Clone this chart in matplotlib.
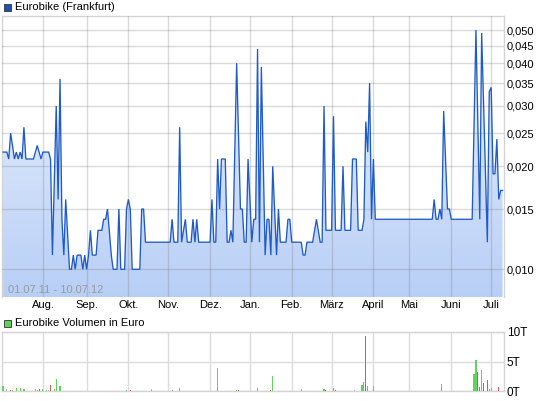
import numpy as np
import matplotlib
matplotlib.use("Agg")
import matplotlib.pyplot as plt
from matplotlib.patches import Rectangle
from matplotlib.ticker import FixedLocator, NullLocator

plt.rcParams['font.family'] = ['Liberation Sans', 'DejaVu Sans']

# ---- data (x = trading-day index since 01.07.11) ----
price_idx = [0, 2, 3, 4, 6, 7, 8, 9, 10, 11, 12, 16, 18, 20, 21, 24, 25, 26, 28, 29,
             30, 31, 32, 33, 35, 36, 37, 38, 39, 41, 42, 43, 44, 45, 46, 47, 49, 50, 52, 53,
             54, 55, 57, 58, 60, 61, 62, 64, 65, 66, 67, 68, 72, 73, 74, 75, 88, 89, 90, 92,
             93, 94, 96, 97, 99, 100, 101, 102, 103, 109, 110, 111, 112, 113, 114, 115, 117, 118, 119, 120,
             121, 123, 125, 126, 127, 128, 129, 131, 132, 133, 134, 135, 136, 138, 139, 140, 141, 142, 144, 145,
             146, 149, 150, 151, 152, 157, 158, 159, 160, 163, 165, 167, 168, 169, 170, 173, 174, 175, 178, 179,
             180, 183, 184, 186, 187, 189, 190, 191, 192, 193, 194, 195, 196, 226, 227, 228, 229, 230, 231, 232,
             234, 235, 236, 247, 249, 251, 252, 255, 256, 257, 258, 259, 260, 261, 262, 263]
price_val = [0.022, 0.022, 0.021, 0.025, 0.021, 0.022, 0.021, 0.022, 0.021, 0.026, 0.021, 0.021, 0.023, 0.021, 0.022, 0.022, 0.021, 0.011, 0.030, 0.016,
             0.036, 0.014, 0.011, 0.016, 0.010, 0.010, 0.011, 0.010, 0.011, 0.011, 0.010, 0.011, 0.010, 0.011, 0.013, 0.011, 0.011, 0.013, 0.013, 0.014,
             0.014, 0.015, 0.011, 0.010, 0.010, 0.015, 0.010, 0.010, 0.015, 0.016, 0.015, 0.010, 0.010, 0.015, 0.015, 0.012, 0.012, 0.014, 0.012, 0.012,
             0.026, 0.012, 0.014, 0.012, 0.012, 0.014, 0.012, 0.014, 0.012, 0.012, 0.016, 0.012, 0.012, 0.021, 0.015, 0.021, 0.021, 0.012, 0.012, 0.013,
             0.012, 0.040, 0.015, 0.015, 0.012, 0.012, 0.021, 0.012, 0.014, 0.014, 0.044, 0.012, 0.039, 0.011, 0.014, 0.014, 0.011, 0.020, 0.011, 0.015,
             0.012, 0.012, 0.014, 0.014, 0.012, 0.012, 0.011, 0.011, 0.012, 0.012, 0.014, 0.012, 0.012, 0.030, 0.013, 0.013, 0.028, 0.013, 0.013, 0.020,
             0.013, 0.013, 0.021, 0.021, 0.013, 0.013, 0.014, 0.027, 0.022, 0.035, 0.014, 0.021, 0.014, 0.014, 0.016, 0.014, 0.014, 0.015, 0.014, 0.029,
             0.015, 0.015, 0.014, 0.014, 0.050, 0.014, 0.049, 0.012, 0.033, 0.034, 0.019, 0.019, 0.024, 0.016, 0.017, 0.017]

vol_idx = [0, 2, 4, 5, 7, 9, 11, 17, 18, 19, 21, 23, 24, 25, 27, 28, 30, 33, 47, 55,
           61, 65, 67, 73, 78, 86, 89, 93, 97, 100, 102, 111, 113, 116, 118, 123, 124, 129, 132, 134,
           137, 139, 141, 142, 143, 145, 151, 152, 157, 160, 162, 164, 166, 169, 170, 174, 175, 179, 185, 186,
           189, 190, 191, 192, 195, 198, 201, 214, 217, 221, 227, 231, 234, 236, 245, 246, 248, 249, 250, 251,
           252, 253, 255, 256, 257, 259, 260, 261, 262]
vol_val = [0.85, 0.35, 0.1, 0.2, 0.5, 0.5, 0.35, 0.35, 0.15, 0.35, 0.35, 0.1, 0.1, 1.0, 0.35, 2.05, 0.85, 0.08, 0.05, 0.05,
           0.05, 0.2, 0.2, 0.05, 0.35, 0.05, 0.2, 0.55, 0.05, 0.05, 0.05, 0.05, 3.95, 0.05, 0.05, 0.2, 0.1, 0.05, 0.05, 0.5,
           0.08, 0.05, 0.2, 2.55, 0.08, 0.05, 0.05, 0.05, 0.35, 0.05, 0.05, 0.05, 0.05, 0.35, 0.2, 0.5, 0.2, 0.05, 0.2, 0.08,
           1.0, 1.55, 9.25, 0.85, 0.85, 0.05, 0.05, 0.05, 0.05, 0.05, 0.08, 1.25, 0.08, 0.05, 0.05, 0.05, 2.95, 5.3, 3.3, 0.75,
           3.6, 1.4, 1.9, 0.35, 0.55, 0.05, 0.08, 0.75, 0.08]
vol_dir = ['g', 'n', 'r', 'g', 'g', 'g', 'g', 'g', 'n', 'r', 'g', 'n', 'n', 'r', 'g', 'g', 'g', 'g', 'g', 'g',
           'g', 'g', 'r', 'g', 'n', 'n', 'g', 'g', 'g', 'g', 'g', 'n', 'g', 'n', 'n', 'g', 'r', 'r', 'g', 'g',
           'r', 'g', 'r', 'g', 'r', 'g', 'n', 'n', 'n', 'g', 'g', 'g', 'r', 'g', 'r', 'g', 'r', 'g', 'n', 'r',
           'g', 'g', 'r', 'g', 'g', 'n', 'n', 'n', 'n', 'n', 'r', 'g', 'r', 'n', 'n', 'n', 'g', 'g', 'r', 'r',
           'g', 'r', 'r', 'g', 'g', 'n', 'g', 'r', 'g']

month_idx = [21, 44, 66, 87, 109, 130, 152, 173, 195, 214, 236, 257]
month_labels = ['Aug.', 'Sep.', 'Okt.', 'Nov.', 'Dez.', 'Jan.', 'Feb.', 'März', 'April', 'Mai', 'Juni', 'Juli']
price_ticks = [0.010, 0.015, 0.020, 0.025, 0.030, 0.035, 0.040, 0.045, 0.050]
vol_ticks = [0, 5, 10]
vol_tick_labels = ['0T', '5T', '10T']

# ---- figure ----
W, H = 545, 401
fig = plt.figure(figsize=(W / 100, H / 100), dpi=100)
fig.patch.set_facecolor('white')

def fx(px):
    return px / W

def fy(py):
    return 1 - py / H

XMIN, XMAX = -0.55, 263.5
YMIN, YMAX = 0.0083, 0.05495
spine_col = '#d4d4d4'

ax = fig.add_axes([fx(2), fy(297), fx(503.5) - fx(2), fy(16) - fy(297)])
ax.set_yscale('log')
ax.set_xlim(XMIN, XMAX)
ax.set_ylim(YMIN, YMAX)

# gradient fill under line
poly = ax.fill_between(price_idx, price_val, YMIN, facecolor='none', edgecolor='none')
grad = np.linspace(0, 1, 256).reshape(-1, 1)
top_c = np.array([0.94, 0.96, 0.995])
bot_c = np.array([0.72, 0.81, 0.965])
img = top_c[None, None, :] * (1 - grad[:, :, None]) + bot_c[None, None, :] * grad[:, :, None]
im = ax.imshow(img, extent=[0, 1, 0, 1], transform=ax.transAxes, aspect='auto', zorder=1,
               interpolation='bilinear')
im.set_clip_path(poly.get_paths()[0], transform=ax.transData)

ax.plot(price_idx, price_val, color='#1f5bc4', lw=0.95, zorder=3, solid_joinstyle='miter')

ax.yaxis.set_major_locator(FixedLocator(price_ticks))
ax.yaxis.set_minor_locator(NullLocator())
ax.set_yticklabels([f"{t:.3f}".replace('.', ',') for t in price_ticks])
ax.yaxis.tick_right()
ax.set_xticks(month_idx)
ax.set_xticklabels(month_labels)
ax.tick_params(axis='both', length=0, labelsize=8, labelcolor='black')
ax.tick_params(axis='y', pad=2.5)
ax.tick_params(axis='x', pad=2.5)
ax.grid(True)
ax.tick_params(axis='both', grid_color='#7a7a7a', grid_alpha=0.28, grid_linewidth=1.0)
for gl in ax.get_xgridlines() + ax.get_ygridlines():
    gl.set_zorder(2)
ax.set_axisbelow(False)
for s in ax.spines.values():
    s.set_color(spine_col)
    s.set_linewidth(1.0)
ax.spines['bottom'].set_visible(False)

ax.text(0.012, 0.025, '01.07.11 - 10.07.12', transform=ax.transAxes, fontsize=8,
        color='#9a9a9a', va='center', ha='left', zorder=4)

# ---- volume panel ----
vax = fig.add_axes([fx(2), fy(391), fx(503.5) - fx(2), fy(332) - fy(391)])
vax.set_xlim(XMIN, XMAX)
vax.set_ylim(0, 10)
col_map = {'g': '#5fd35a', 'r': '#d05a5a', 'n': '#b0b0b0'}
vax.bar(vol_idx, vol_val, width=0.6, color=[col_map[d] for d in vol_dir], zorder=3, linewidth=0)
vax.set_xticks(month_idx)
vax.set_xticklabels([])
vax.set_yticks(vol_ticks)
vax.set_yticklabels(vol_tick_labels)
vax.yaxis.tick_right()
vax.tick_params(axis='both', length=0, labelsize=8.5)
vax.tick_params(axis='y', pad=2.5)
vax.grid(True)
vax.tick_params(axis='both', grid_color='#dcdcdc', grid_linewidth=1.0)
vax.set_axisbelow(True)
for s in vax.spines.values():
    s.set_color(spine_col)
    s.set_linewidth(1.0)

# ---- legends ----
fig.patches.append(Rectangle((fx(3.5), fy(11)), fx(7), fy(4) - fy(11), transform=fig.transFigure,
                             facecolor='#1d50b0', edgecolor='#333333', lw=0.6))
fig.text(fx(15), fy(7), 'Eurobike (Frankfurt)', fontsize=8, va='center', ha='left')
fig.patches.append(Rectangle((fx(3.5), fy(327)), fx(7), fy(320) - fy(327), transform=fig.transFigure,
                             facecolor='#5fd35a', edgecolor='#333333', lw=0.6))
fig.text(fx(15), fy(323), 'Eurobike Volumen in Euro', fontsize=8, va='center', ha='left')

fig.savefig('out.png', dpi=100)
